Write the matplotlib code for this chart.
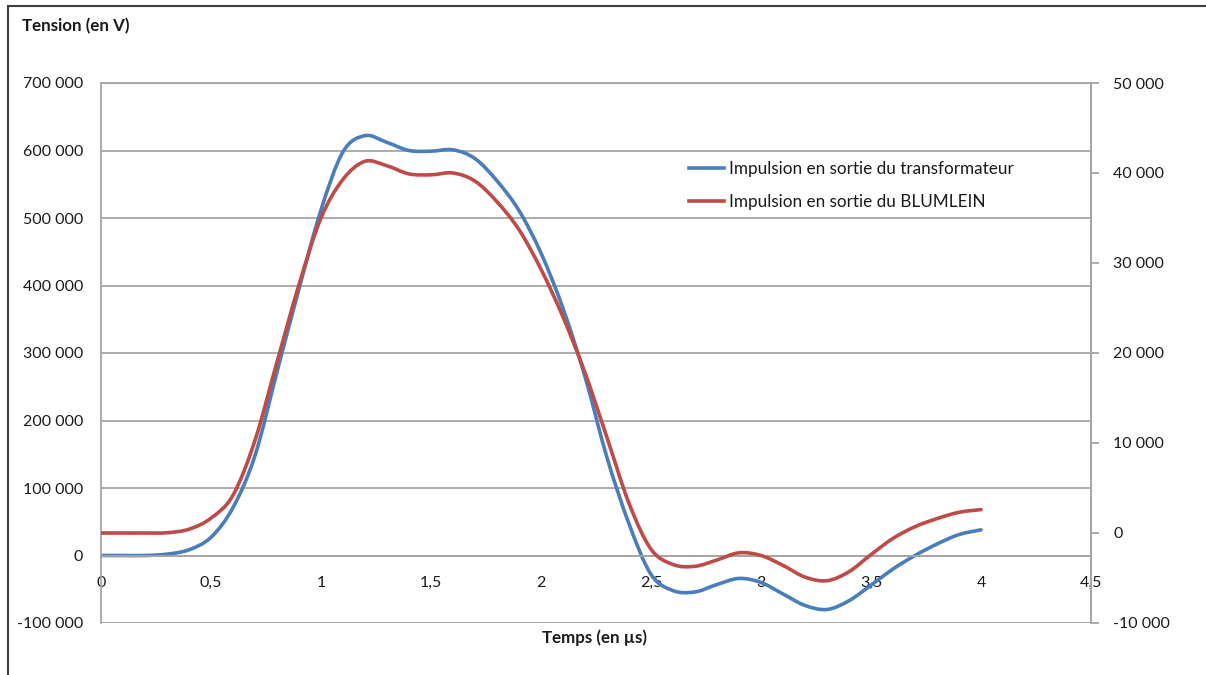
import matplotlib
matplotlib.use("Agg")
import matplotlib.pyplot as plt
import numpy as np
from matplotlib.path import Path
from matplotlib.patches import PathPatch
from matplotlib.lines import Line2D
from matplotlib.ticker import FuncFormatter

plt.rcParams['font.family'] = ['Lato', 'DejaVu Sans']

# ---- data ----
time_us = [0.0, 0.1, 0.2, 0.3, 0.4, 0.5, 0.6, 0.7, 0.8, 0.9,
           1.0, 1.1, 1.2, 1.3, 1.4, 1.5, 1.6, 1.7, 1.8, 1.9,
           2.0, 2.1, 2.2, 2.3, 2.4, 2.5, 2.6, 2.7, 2.8, 2.9,
           3.0, 3.1, 3.2, 3.3, 3.4, 3.5, 3.6, 3.7, 3.8, 3.9, 4.0]

transfo_V = [0, 0, 0, 2000, 8500, 27000, 71000, 148000, 272000, 395000,
             512000, 598000, 622000, 612000, 600000, 599000, 601000, 588000, 555000, 511000,
             448000, 366000, 265000, 145000, 47000, -28000, -52000, -54000, -43000, -34000,
             -40000, -57000, -74000, -80000, -67000, -44000, -20000, 0, 17000, 31000, 38000]

blumlein_V = [0, 0, 0, 30, 420, 1650, 4200, 10300, 19000, 27600,
              35000, 39300, 41300, 40800, 39900, 39800, 40000, 39100, 36800, 33700,
              29300, 24000, 17800, 10600, 3300, -1800, -3500, -3700, -3000, -2200,
              -2500, -3600, -4900, -5300, -4300, -2400, -600, 700, 1600, 2300, 2600]

series_labels = ["Impulsion en sortie du transformateur", "Impulsion en sortie du BLUMLEIN"]
x_ticks = [0, 0.5, 1, 1.5, 2, 2.5, 3, 3.5, 4, 4.5]
left_ticks = [-100000, 0, 100000, 200000, 300000, 400000, 500000, 600000, 700000]
right_ticks = [-10000, 0, 10000, 20000, 30000, 40000, 50000]

BLUE = "#4A7EBB"
RED = "#BE4B48"
GRID = "#A6A6A6"
TXT = "#1a1a1a"


def smooth_path(x, y):
    x = np.asarray(x, float)
    y = np.asarray(y, float)
    n = len(x)
    verts = [(x[0], y[0])]
    codes = [Path.MOVETO]
    for i in range(n - 1):
        x0, y0 = (x[i - 1], y[i - 1]) if i > 0 else (x[i], y[i])
        x3, y3 = (x[i + 2], y[i + 2]) if i + 2 < n else (x[i + 1], y[i + 1])
        c1 = (x[i] + (x[i + 1] - x0) / 6, y[i] + (y[i + 1] - y0) / 6)
        c2 = (x[i + 1] - (x3 - x[i]) / 6, y[i + 1] - (y3 - y[i]) / 6)
        verts += [c1, c2, (x[i + 1], y[i + 1])]
        codes += [Path.CURVE4] * 3
    return Path(verts, codes)


def fr_fmt(v, pos):
    s = f"{abs(int(round(v))):,}".replace(",", " ")
    return ("-" if v < 0 else "") + s


def x_fmt(v, pos):
    s = f"{v:g}"
    return s.replace(".", ",")


TICK_FS = 11.5
fig = plt.figure(figsize=(12.06, 6.75), dpi=100)
ax = fig.add_axes([101 / 1206, 1 - 623 / 675, (1091 - 101) / 1206, (623 - 83) / 675])
ax2 = ax.twinx()

ax.set_xlim(0, 4.5)
ax.set_ylim(-100000, 700000)
ax2.set_ylim(-10000, 50000)

ax.set_yticks(left_ticks)
ax.yaxis.set_major_formatter(FuncFormatter(fr_fmt))
ax2.set_yticks(right_ticks)
ax2.yaxis.set_major_formatter(FuncFormatter(fr_fmt))
ax.set_xticks(x_ticks)
ax.xaxis.set_major_formatter(FuncFormatter(x_fmt))

ax.grid(axis='y', color=GRID, linewidth=1.3)
ax.grid(axis='x', visible=False)

for a in (ax, ax2):
    for sp in a.spines.values():
        sp.set_color(GRID)
        sp.set_linewidth(1.3)
ax.spines['bottom'].set_position(('data', 0))
ax2.spines['bottom'].set_visible(False)
ax2.spines['top'].set_visible(False)
ax2.spines['left'].set_visible(False)
ax.axhline(-100000, color=GRID, linewidth=1.3, zorder=0.5)

ax.tick_params(axis='y', length=0, pad=13, labelsize=TICK_FS, labelcolor=TXT)
ax.tick_params(axis='x', length=0, pad=15, labelsize=TICK_FS, labelcolor=TXT)
ax2.tick_params(axis='y', length=6, width=1.3, color=GRID, pad=10, labelsize=TICK_FS, labelcolor=TXT)

ax.add_patch(PathPatch(smooth_path(time_us, transfo_V), facecolor='none',
                       edgecolor=BLUE, linewidth=2.6, capstyle='round', joinstyle='round', zorder=2))
ax2.add_patch(PathPatch(smooth_path(time_us, blumlein_V), facecolor='none',
                        edgecolor=RED, linewidth=2.6, capstyle='round', joinstyle='round', zorder=2))

handles = [Line2D([], [], color=BLUE, linewidth=2.6),
           Line2D([], [], color=RED, linewidth=2.6)]
fig.legend(handles, series_labels, loc='upper left', bbox_to_anchor=(674 / 1206, 1 - 146 / 675),
           frameon=False, fontsize=12.3, handlelength=2.0, handletextpad=0.3,
           labelspacing=0.95, labelcolor=TXT)

fig.text(22 / 1206, 1 - 26 / 675, "Tension (en V)", fontsize=12.2, fontweight='bold',
         ha='left', va='center', color=TXT)
fig.text(595 / 1206, 1 - 638 / 675, "Temps (en µs)", fontsize=12.2, fontweight='bold',
         ha='center', va='center', color=TXT)

# outer frame (left and top edges visible)
fig.add_artist(Line2D([8 / 1206, 8 / 1206], [0, 1 - 6 / 675], transform=fig.transFigure,
                      color="#404040", linewidth=1.5))
fig.add_artist(Line2D([8 / 1206, 1], [1 - 6 / 675, 1 - 6 / 675], transform=fig.transFigure,
                      color="#404040", linewidth=1.5))

fig.savefig("out.png", dpi=100)
